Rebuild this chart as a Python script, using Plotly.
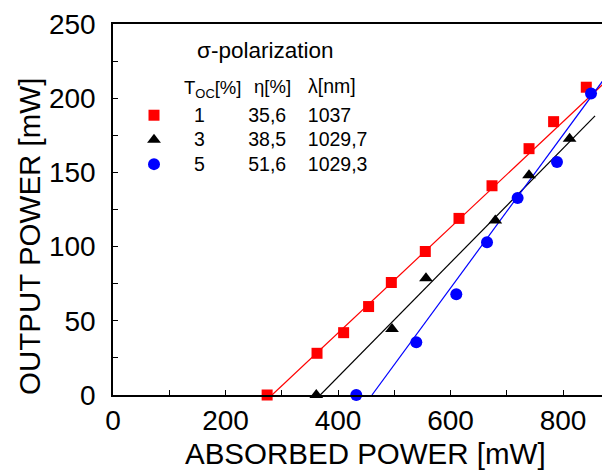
import plotly.graph_objects as go

# ---------------- data ----------------
toc_labels = ["1", "3", "5"]
eta_labels = ["35,6", "38,5", "51,6"]
lambda_labels = ["1037", "1029,7", "1029,3"]
slopes = [35.6, 38.5, 51.6]            # slope efficiency [%]
thresholds = [282.7, 368.5, 460.4]     # fit-line thresholds [mW]
line_ends = [950, 857, 950]            # where each fit line stops [mW]

red_x = [274, 362.7, 410, 454.4, 494.8, 555.2, 615.1, 673.8, 739.6, 783.3, 841.4]
red_y = [0, 28.1, 42.0, 59.6, 75.8, 96.7, 119.0, 141.0, 166.0, 184.2, 207.4]
black_x = [361.4, 496, 556.4, 679.6, 739.6, 811.7]
black_y = [0, 44.5, 78.7, 117.6, 148.0, 172.7]
blue_x = [432.5, 539.2, 610.3, 664.9, 719.3, 789.3, 849.8]
blue_y = [0, 35.6, 67.9, 103.0, 132.7, 157.0, 203.1]

x_ticks = [0, 200, 400, 600, 800]
y_ticks = [0, 50, 100, 150, 200, 250]

# ---------------- style ----------------
FONT = "Liberation Sans, Arial, sans-serif"
colors = ["#FF0000", "#000000", "#0000FF"]
symbols = ["square", "triangle-up", "circle"]
msizes = [11, 12, 12]
series = [(red_x, red_y), (black_x, black_y), (blue_x, blue_y)]

NB = "\u00a0"
OFF = 8  # page body margin of the browser

fig = go.Figure()

# fit lines
for i in range(3):
    x0, x1 = thresholds[i], line_ends[i]
    fig.add_trace(go.Scatter(
        x=[x0, x1], y=[0, slopes[i] / 100 * (x1 - x0)],
        mode="lines", line=dict(color=colors[i], width=1.2),
        showlegend=False, hoverinfo="skip"))

# data points
for i, (xs, ys) in enumerate(series):
    row = toc_labels[i] + NB * 8 + eta_labels[i] + NB * 4 + lambda_labels[i]
    name = '<span style="font-size:19.5px">' + row + "</span>"
    fig.add_trace(go.Scatter(
        x=xs, y=ys, mode="markers", name=name,
        marker=dict(symbol=symbols[i], size=msizes[i], color=colors[i],
                    line=dict(width=0)),
        cliponaxis=False))

# picture geometry (in screenshot pixels)
PLOT_L, PLOT_T, PLOT_B, PIC_W, PIC_H = 113, 24, 395, 610, 472
W, H = PIC_W - OFF, PIC_H - OFF
L, T = PLOT_L - OFF, PLOT_T - OFF
B = H - (PLOT_B - OFF)
R = 0
pw, ph = W - L - R, H - T - B


def px(xp):
    return (xp - OFF - L) / pw


def py(yp):
    return (H - B - (yp - OFF)) / ph


annotations = [
    dict(text="\u03c3-polarization", x=px(195), y=py(50), xanchor="left",
         yanchor="middle", font=dict(size=22.5)),
    dict(text="T<sub>OC</sub>[%]", x=px(182), y=py(89), xanchor="left",
         yanchor="middle", font=dict(size=18.5)),
    dict(text="\u03b7[%]", x=px(252), y=py(86), xanchor="left",
         yanchor="middle", font=dict(size=18.5)),
    dict(text="\u03bb[nm]", x=px(306), y=py(86), xanchor="left",
         yanchor="middle", font=dict(size=19.5)),
    dict(text="ABSORBED POWER [mW]", x=px(365), y=py(453), xanchor="center",
         yanchor="middle", font=dict(size=29.5)),
    dict(text="OUTPUT POWER [mW]", x=px(29), y=py(237), xanchor="center",
         yanchor="middle", textangle=-90, font=dict(size=29.5)),
]
for a in annotations:
    a.update(xref="paper", yref="paper", showarrow=False)

fig.update_layout(
    width=W, height=H,
    margin=dict(l=L, r=R, t=T, b=B, pad=0),
    paper_bgcolor="white", plot_bgcolor="white",
    font=dict(family=FONT, color="black"),
    showlegend=True,
    legend=dict(x=px(114), y=py(98), xanchor="left", yanchor="top",
                bgcolor="rgba(0,0,0,0)", font=dict(size=16.5, family=FONT),
                itemwidth=70, tracegroupgap=0),
    annotations=annotations,
)

fig.update_xaxes(
    range=[0, pw / 0.5625], showgrid=False, zeroline=False,
    showline=True, linecolor="black", linewidth=1.5, mirror=True,
    tickmode="array", tickvals=x_ticks, ticktext=[str(v) for v in x_ticks],
    ticks="inside", ticklen=5, tickwidth=1.2, tickcolor="black",
    minor=dict(dtick=100, ticks="inside", ticklen=5, tickwidth=1.2, tickcolor="black"),
    tickfont=dict(size=28, family=FONT), ticklabelstandoff=0,
)
fig.update_yaxes(
    range=[0, 250], showgrid=False, zeroline=False,
    showline=True, linecolor="black", linewidth=1.5, mirror=False,
    tickmode="array", tickvals=y_ticks, ticktext=[str(v) for v in y_ticks],
    ticks="inside", ticklen=5, tickwidth=1.2, tickcolor="black",
    minor=dict(dtick=25, ticks="inside", ticklen=5, tickwidth=1.2, tickcolor="black"),
    tickfont=dict(size=28, family=FONT), ticklabelstandoff=10,
)

fig.write_html("out.html")
